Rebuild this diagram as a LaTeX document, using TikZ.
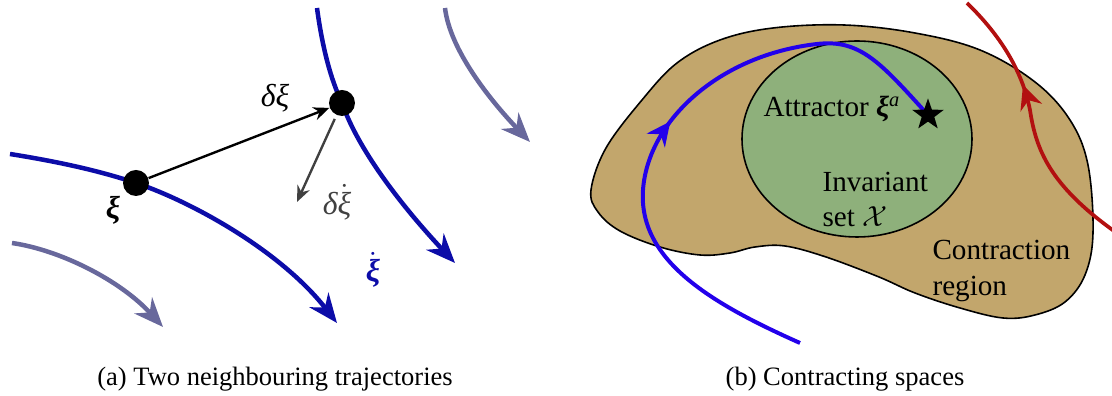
\documentclass[tikz,border=0pt]{standalone}
\usepackage{amsmath}
\usepackage{fontspec}
\setmainfont{Liberation Serif}
\usetikzlibrary{arrows.meta,shapes.geometric,decorations.markings}
\definecolor{trajcol}{RGB}{12,12,168}
\definecolor{flowcol}{RGB}{104,104,156}
\definecolor{varcol}{RGB}{64,64,64}
\definecolor{regcol}{RGB}{194,166,108}
\definecolor{setcol}{RGB}{142,176,123}
\definecolor{incol}{RGB}{35,0,235}
\definecolor{outcol}{RGB}{178,16,16}
\newcommand{\vxi}{{\bfseries\itshape ξ}}
\newcommand{\dxi}{{\itshape δξ}}

\begin{document}
\begin{tikzpicture}[x=0.377pt,y=-0.377pt,
  traj/.style={trajcol,line width=1.7pt,-{Stealth[length=11pt,width=9pt]}},
  flow/.style={flowcol,line width=1.7pt,-{Stealth[length=11pt,width=9pt]}},
  dot/.style={circle,fill=black,minimum size=9.8pt,inner sep=0pt},
  vec/.style={line width=0.9pt,-{Stealth[length=6pt,width=5pt]}},
  lbl/.style={font=\fontsize{12}{14}\selectfont,inner sep=0pt},
  txt/.style={font=\fontsize{11}{13.6}\selectfont,inner sep=0pt},
  captxt/.style={font=\fontsize{10}{12}\selectfont,inner sep=0pt},
  midarrow/.style={postaction={decorate},decoration={markings,
    mark=at position #1 with {\arrow{Stealth[length=9pt,width=8.5pt]}}}},
  >=Stealth
]
\useasboundingbox (0,0) rectangle (1112,396);
% (a) two neighbouring trajectories
\coordinate (pa) at (136,183);
\coordinate (pb) at (342,103);
\coordinate (dv) at (297,202);
\draw[flow] (12,243) .. controls (60,250) and (120,280) .. (163,327);
\draw[flow] (445,8) .. controls (450,50) and (490,100) .. (530,142);
\draw[traj] (10,154) .. controls (60,162) and (100,171) .. (pa)
  .. controls (190,201) and (280,250) .. (337,323);
\draw[traj] (317,8) .. controls (322,45) and (330,78) .. (pb)
  .. controls (360,155) and (410,215) .. (455,263);
\node[dot] (xa) at (pa) {};
\node[dot] (xb) at (pb) {};
\draw[vec] (xa) -- (xb);
\draw[vec,varcol,shorten <=1.5pt] (xb) -- (dv);
\node[lbl] (lxa) at (113,210) {\vxi};
\node[lbl] (ldx) at (275,98) {\dxi};
\node[lbl,varcol] (ldv) at (337,202) {{\itshape δ}$\dot{\text{\itshape ξ}}$};
\node[lbl,trajcol] (lv) at (373,270) {$\dot{\text{\vxi}}$};
\node[captxt,anchor=base] (capa) at (275,386) {(a) Two neighbouring trajectories};
% (b) contracting spaces
\filldraw[fill=regcol,draw=black,line width=0.6pt] plot[smooth cycle,tension=0.6] coordinates {
  (591,190) (606,148) (642,100) (677,63) (720,40) (773,28) (844,25) (915,33)
  (980,50) (1035,82) (1070,120) (1088,165) (1093,233) (1085,275) (1065,302)
  (1035,315) (1003,318) (960,308) (915,293) (879,277) (826,257) (785,246)
  (755,247) (730,253) (700,255) (660,247) (620,231) (598,212)};
\filldraw[fill=setcol,draw=black,line width=0.6pt] (857,139) ellipse [x radius=115,y radius=98];
\coordinate (ac) at (928,115);
\draw[incol,line width=1.5pt,midarrow=0.5] (800,343) .. controls (715,305) and (638,262) .. (643,190)
  .. controls (648,120) and (720,55) .. (817,44) .. controls (860,39) and (880,62) .. (ac);
\draw[outcol,line width=1.4pt,midarrow=0.64] (1114,231) .. controls (1050,185) and (1036,150) .. (1030,110)
  .. controls (1022,70) and (1000,35) .. (967,3);
\node[star,star points=5,star point ratio=2.5,fill=black,inner sep=0pt,minimum size=12.5pt] (attr) at (ac) {};
\node[txt,anchor=base west] (latt) at (763,117) {Attractor \vxi\textsuperscript{\itshape a}};
\node[txt,anchor=base west] (linv) at (822,192) {Invariant};
\node[txt,anchor=base west] (lset) at (822,227) {set $\mathcal{X}$};
\node[txt,anchor=base west] (lcon) at (932,260) {Contraction};
\node[txt,anchor=base west] (lreg) at (932,296) {region};
\node[captxt,anchor=base] (capb) at (845,386) {(b) Contracting spaces};
\end{tikzpicture}
\end{document}
